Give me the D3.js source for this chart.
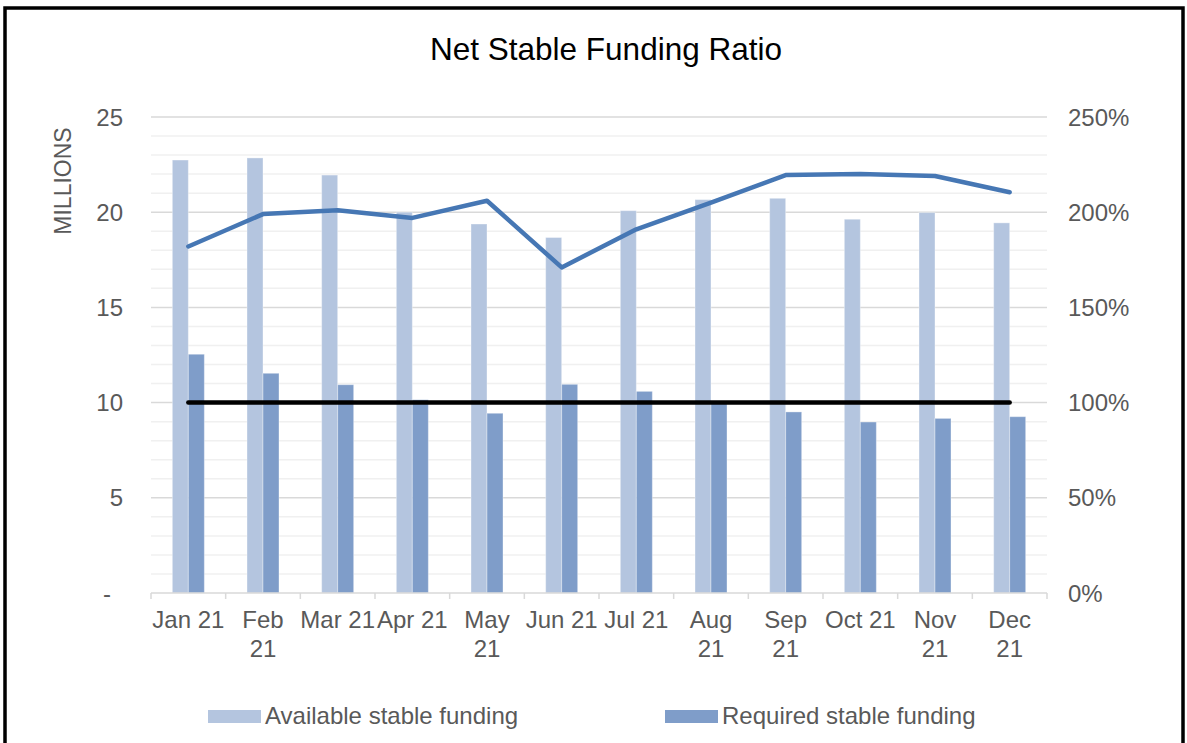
<!DOCTYPE html>
<html>
<head>
<meta charset="utf-8">
<script src="https://cdn.jsdelivr.net/npm/d3@7"></script>
<style>
  html, body { margin: 0; padding: 0; background: #fff; }
  svg { display: block; font-family: "Liberation Sans", Arial, sans-serif; }
</style>
</head>
<body>
<svg id="chart" width="1187" height="743"></svg>
<script>
// Monthly categories (two-line labels where the axis wraps them)
const months = ["Jan 21", "Feb 21", "Mar 21", "Apr 21", "May 21", "Jun 21",
                "Jul 21", "Aug 21", "Sep 21", "Oct 21", "Nov 21", "Dec 21"];
const monthLabels = [["Jan 21"], ["Feb", "21"], ["Mar 21"], ["Apr 21"], ["May", "21"], ["Jun 21"],
                     ["Jul 21"], ["Aug", "21"], ["Sep", "21"], ["Oct 21"], ["Nov", "21"], ["Dec", "21"]];

// Funding amounts, millions
const availableFunding = [22.74, 22.85, 21.95, 20.00, 19.38, 18.67, 20.08, 20.66, 20.73, 19.63, 19.98, 19.44];
const requiredFunding  = [12.54, 11.54, 10.94, 10.15,  9.44, 10.96, 10.59, 10.08,  9.51,  8.98,  9.17,  9.26];

// Net stable funding ratio (%) and the 100% regulatory minimum
const nsfrRatio  = [182, 199, 201, 197, 206, 171, 191, 205, 219.5, 220, 219, 210.5];
const minimumRatio = [100, 100, 100, 100, 100, 100, 100, 100, 100, 100, 100, 100];

// Axis ticks
const leftTicks  = [0, 5, 10, 15, 20, 25];
const rightTicks = [0, 50, 100, 150, 200, 250];

const seriesNames = ["Available stable funding", "Required stable funding"];
const seriesColors = ["#b4c5df", "#7f9dc9"];

const svg = d3.select("#chart");
const font = "'Liberation Sans', Arial, sans-serif";
const textGrey = "#595959";
const labelSize = "24px";

// Outer frame
svg.append("rect")
  .attr("x", 5).attr("y", 8).attr("width", 1178).attr("height", 745)
  .attr("fill", "none").attr("stroke", "#000").attr("stroke-width", 3.5);

// Plot area
const plot = { left: 151, right: 1047, top: 117, bottom: 593 };

const x = d3.scaleBand().domain(months).range([plot.left, plot.right]).paddingInner(0).paddingOuter(0);
const xSub = d3.scaleBand().domain(seriesNames).range([0, x.bandwidth()])
  .paddingInner(0).paddingOuter(1.333);
const yLeft = d3.scaleLinear().domain([0, 25]).range([plot.bottom, plot.top]);
const yRight = d3.scaleLinear().domain([0, 250]).range([plot.bottom, plot.top]);

// Minor gridlines (every 1 million)
const minor = d3.range(1, 25).filter(v => v % 5 !== 0);
svg.append("g").selectAll("line").data(minor).join("line")
  .attr("x1", plot.left).attr("x2", plot.right)
  .attr("y1", d => yLeft(d)).attr("y2", d => yLeft(d))
  .attr("stroke", "#f0f0f0").attr("stroke-width", 1.5);

// Major gridlines
svg.append("g").selectAll("line").data(leftTicks.filter(v => v > 0)).join("line")
  .attr("x1", plot.left).attr("x2", plot.right)
  .attr("y1", d => yLeft(d)).attr("y2", d => yLeft(d))
  .attr("stroke", "#d9d9d9").attr("stroke-width", 1.5);

// Bars
const barData = months.map((m, i) => [
  { month: m, series: seriesNames[0], value: availableFunding[i], color: seriesColors[0] },
  { month: m, series: seriesNames[1], value: requiredFunding[i], color: seriesColors[1] }
]).flat();

svg.append("g").selectAll("rect").data(barData).join("rect")
  .attr("x", d => x(d.month) + xSub(d.series))
  .attr("width", xSub.bandwidth())
  .attr("y", d => yLeft(d.value))
  .attr("height", d => yLeft(0) - yLeft(d.value))
  .attr("fill", d => d.color)
  .attr("stroke", "rgba(255,255,255,0.35)").attr("stroke-width", 1);

// Category axis
const xAxis = svg.append("g");
xAxis.append("line")
  .attr("x1", plot.left).attr("x2", plot.right)
  .attr("y1", plot.bottom).attr("y2", plot.bottom)
  .attr("stroke", "#d9d9d9").attr("stroke-width", 1.5);
const boundaries = months.map(m => x(m)).concat([plot.right]);
xAxis.selectAll("line.tick").data(boundaries).join("line")
  .attr("class", "tick")
  .attr("x1", d => d).attr("x2", d => d)
  .attr("y1", plot.bottom).attr("y2", plot.bottom + 6)
  .attr("stroke", "#d9d9d9").attr("stroke-width", 1.5);

const xLabels = xAxis.selectAll("text").data(months).join("text")
  .attr("x", d => x(d) + x.bandwidth() / 2)
  .attr("y", 628)
  .attr("text-anchor", "middle")
  .attr("fill", textGrey)
  .style("font-size", labelSize).style("font-family", font);
xLabels.each(function(d, i) {
  const t = d3.select(this);
  monthLabels[i].forEach((part, j) => {
    t.append("tspan").attr("x", x(d) + x.bandwidth() / 2).attr("dy", j === 0 ? 0 : 29).text(part);
  });
});

// Left axis labels (accounting style: zero shown as a dash, padded on the right)
svg.append("g").selectAll("text").data(leftTicks).join("text")
  .attr("x", d => d === 0 ? 111 : 123).attr("y", d => yLeft(d) + 8.5)
  .attr("text-anchor", "end")
  .attr("fill", textGrey)
  .style("font-size", labelSize).style("font-family", font)
  .text(d => d === 0 ? "-" : d3.format("d")(d));

// Right axis labels
svg.append("g").selectAll("text").data(rightTicks).join("text")
  .attr("x", 1068).attr("y", d => yRight(d) + 8.5)
  .attr("text-anchor", "start")
  .attr("fill", textGrey)
  .style("font-size", labelSize).style("font-family", font)
  .text(d => d + "%");

// Left axis title
svg.append("text")
  .attr("transform", "translate(71,181) rotate(-90)")
  .attr("text-anchor", "middle")
  .attr("fill", textGrey)
  .style("font-size", "23px").style("font-family", font)
  .text("MILLIONS");

// Ratio lines on the secondary axis
const lineGen = d3.line()
  .x((d, i) => x(months[i]) + x.bandwidth() / 2)
  .y(d => yRight(d));

svg.append("path").datum(minimumRatio)
  .attr("d", lineGen)
  .attr("fill", "none").attr("stroke", "#000").attr("stroke-width", 4.5)
  .attr("stroke-linecap", "round");

svg.append("path").datum(nsfrRatio)
  .attr("d", lineGen)
  .attr("fill", "none").attr("stroke", "#4677b4").attr("stroke-width", 4.5)
  .attr("stroke-linejoin", "round").attr("stroke-linecap", "round");

// Title
svg.append("text")
  .attr("x", 606).attr("y", 60)
  .attr("text-anchor", "middle")
  .attr("fill", "#000")
  .style("font-size", "31.5px").style("font-family", font)
  .text("Net Stable Funding Ratio");

// Legend
const legendItems = [
  { name: seriesNames[0], color: seriesColors[0], x: 208 },
  { name: seriesNames[1], color: seriesColors[1], x: 665 }
];
const legend = svg.append("g").selectAll("g").data(legendItems).join("g")
  .attr("transform", d => `translate(${d.x},0)`);
legend.append("rect")
  .attr("x", 0).attr("y", 710).attr("width", 53).attr("height", 13)
  .attr("fill", d => d.color);
legend.append("text")
  .attr("x", 57).attr("y", 724)
  .attr("fill", textGrey)
  .style("font-size", labelSize).style("font-family", font)
  .text(d => d.name);
</script>
</body>
</html>
